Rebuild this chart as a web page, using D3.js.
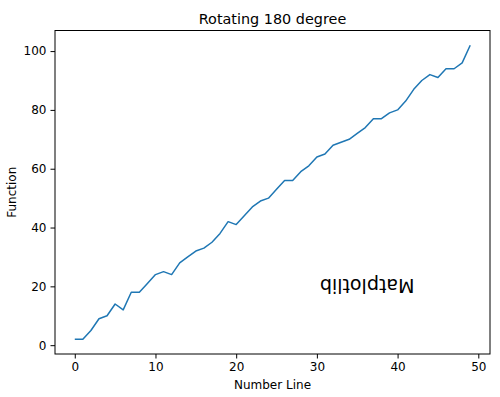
<!DOCTYPE html>
<html>
<head>
<meta charset="utf-8">
<script src="https://cdn.jsdelivr.net/npm/d3@7"></script>
<style>
  body { margin: 0; background: #fff; }
  text { font-family: "DejaVu Sans", sans-serif; fill: #000; }
</style>
</head>
<body>
<div class="chart"></div>
<script>
// data
var xValues = d3.range(0, 50);
var yValues = [2, 2, 5, 9, 10, 14, 12, 18, 18, 21,
               24, 25, 24, 28, 30, 32, 33, 35, 38, 42,
               41, 44, 47, 49, 50, 53, 56, 56, 59, 61,
               64, 65, 68, 69, 70, 72, 74, 77, 77, 79,
               80, 83, 87, 90, 92, 91, 94, 94, 96, 102];
var xTicks = [0, 10, 20, 30, 40, 50];
var yTicks = [0, 20, 40, 60, 80, 100];
var titleText = 'Rotating 180 degree';
var xLabel = 'Number Line';
var yLabel = 'Function';
var noteText = 'Matplotlib';
var notePos = [30, 20];

var width = 500, height = 397;
// plot box (note: "top" is taken by window.top, so use own names)
var pLeft = 55, pRight = 490, pTop = 30.5, pBottom = 354;

var svg = d3.select('.chart').append('svg')
  .attr('width', width)
  .attr('height', height);

// matplotlib style 5% margins
var xPad = (d3.max(xValues) - d3.min(xValues)) * 0.05;
var yPad = (d3.max(yValues) - d3.min(yValues)) * 0.05;

var x = d3.scaleLinear()
  .domain([d3.min(xValues) - xPad, d3.max(xValues) + xPad])
  .range([pLeft, pRight]);
var y = d3.scaleLinear()
  .domain([d3.min(yValues) - yPad, d3.max(yValues) + yPad])
  .range([pBottom, pTop]);

//axes
var xAxis = svg.append('g')
  .attr('transform', 'translate(0,' + pBottom + ')')
  .call(d3.axisBottom(x).tickValues(xTicks).tickSize(4.5).tickPadding(4).tickFormat(d3.format('d')));
var yAxis = svg.append('g')
  .attr('transform', 'translate(' + pLeft + ',0)')
  .call(d3.axisLeft(y).tickValues(yTicks).tickSize(4.5).tickPadding(4).tickFormat(d3.format('d')));

[xAxis, yAxis].forEach(function(a) {
  a.select('.domain').remove();
  a.selectAll('line').attr('stroke', '#000').attr('stroke-width', 1);
  a.selectAll('text').style('font-family', '"DejaVu Sans", sans-serif').style('font-size', '12px').attr('fill', '#000');
});

// frame
svg.append('rect')
  .attr('x', pLeft)
  .attr('y', pTop)
  .attr('width', pRight - pLeft)
  .attr('height', pBottom - pTop)
  .attr('fill', 'none')
  .attr('stroke', '#000')
  .attr('stroke-width', 1);

// the line
var line = d3.line()
  .x(function(d, i) { return x(xValues[i]); })
  .y(function(d) { return y(d); });

svg.append('path')
  .datum(yValues)
  .attr('d', line)
  .attr('fill', 'none')
  .attr('stroke', '#1f77b4')
  .attr('stroke-width', 1.5)
  .attr('stroke-linejoin', 'round');

// labels
svg.append('text')
  .attr('x', (pLeft + pRight) / 2)
  .attr('y', pTop - 7)
  .attr('text-anchor', 'middle')
  .style('font-size', '14.4px')
  .text(titleText);

svg.append('text')
  .attr('x', (pLeft + pRight) / 2)
  .attr('y', 389)
  .attr('text-anchor', 'middle')
  .style('font-size', '12px')
  .text(xLabel);

svg.append('text')
  .attr('transform', 'translate(16,' + (pTop + pBottom) / 2 + ') rotate(-90)')
  .attr('text-anchor', 'middle')
  .style('font-size', '12px')
  .text(yLabel);

// upside-down note
var nx = x(notePos[0]) + 3, ny = y(notePos[1]) - 7;
svg.append('text')
  .attr('transform', 'translate(' + nx + ',' + ny + ') rotate(180)')
  .attr('text-anchor', 'end')
  .style('font-size', '19px')
  .text(noteText);
</script>
</body>
</html>
